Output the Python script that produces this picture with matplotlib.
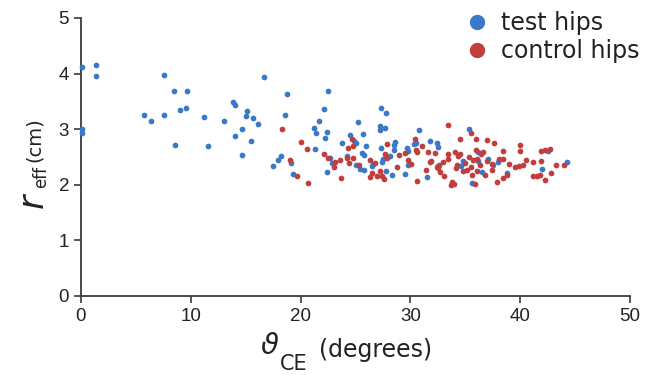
import numpy as np
import matplotlib
matplotlib.use("Agg")
import matplotlib.pyplot as plt
from matplotlib.lines import Line2D

# test hips (blue): theta_CE in degrees, r_eff in cm
test_theta = [0.06, 1.34, 1.37, 7.56, 8.5, 9.65, 9.56, 9.05, 5.74, 6.35, 7.56, 11.2, 8.56, 0.12, 0.06,
              16.7, 18.8, 22.5, 13.8, 14.0, 15.1, 15.0, 15.7, 13.05, 16.1, 18.6, 22.1, 21.7, 21.2, 14.7,
              14.05, 15.5, 11.6, 14.7,
              21.4, 22.4, 22.2, 21.3, 19.15, 17.9, 18.2, 17.5, 19.3, 22.4, 22.7, 22.9, 23.8, 24.2, 24.5,
              25.0, 25.2, 25.7, 25.0, 25.6, 25.8, 26.0, 25.4, 25.75, 26.5, 27.75, 27.4, 27.35, 27.3, 27.8,
              27.2, 27.2, 27.7, 28.5, 28.6, 28.5, 28.1, 29.8, 29.7, 30.8, 30.3, 30.5, 31.8, 32.45, 32.4,
              31.5, 29.5, 29.75, 28.35,
              35.3, 32.5, 42.5, 44.3, 42.0, 38.8, 38.0, 37.1, 37.5, 36.5, 36.2, 36.2, 35.6, 34.6, 34.8,
              32.6, 24.9, 27.5, 26.6]
test_r = [4.11, 4.16, 3.95, 3.97, 3.69, 3.68, 3.38, 3.35, 3.26, 3.15, 3.25, 3.22, 2.72, 3.01, 2.93,
          3.93, 3.63, 3.68, 3.49, 3.44, 3.33, 3.23, 3.21, 3.15, 3.10, 3.26, 3.36, 3.14, 3.03, 3.0,
          2.88, 2.79, 2.69, 2.54,
          2.94, 2.95, 2.85, 2.65, 2.40, 2.44, 2.51, 2.34, 2.20, 2.23, 2.49, 2.40, 2.76, 2.51, 2.89,
          2.75, 3.13, 2.92, 2.36, 2.57, 2.54, 2.70, 2.29, 2.26, 2.33, 2.25, 2.41, 2.67, 3.38, 3.30,
          3.05, 2.99, 3.03, 2.72, 2.77, 2.62, 2.51, 2.61, 2.66, 2.98, 2.73, 2.76, 2.79, 2.76, 2.32,
          2.14, 2.20, 2.36, 2.17,
          3.0, 2.68, 2.60, 2.41, 2.29, 2.21, 2.41, 2.47, 2.35, 2.23, 2.42, 2.59, 2.04, 2.34, 2.43,
          2.35, 2.79, 2.47, 2.38]

# control hips (red)
ctrl_theta = [18.3, 20.0, 20.6, 19.0, 19.7, 20.7, 22.1, 22.5, 23.0, 23.1, 23.6, 23.65, 24.2, 24.3,
              24.7, 24.8, 24.8, 24.4, 25.3, 26.35, 26.8, 26.35, 26.5, 27.0, 27.2, 27.6, 27.9, 27.7,
              27.85, 29.0, 29.5, 30.4, 30.5, 30.6, 31.1, 31.6, 32.2, 31.8, 32.5, 31.4, 30.6, 29.8,
              30.05, 28.8, 27.4,
              33.4, 35.5, 34.5, 36.0, 37.0, 37.6, 40.0, 40.0, 38.4, 41.9, 42.3, 42.7, 40.5, 41.2,
              41.9, 43.3, 44.0, 42.8, 41.2, 41.5, 41.8, 42.3, 39.5, 39.9, 40.3, 39.0, 38.8, 38.4,
              37.9, 38.1, 38.4, 37.4, 37.4, 36.8, 36.3, 36.1, 36.6, 36.4, 36.0, 35.7, 35.3, 35.5,
              36.1, 35.6, 35.9, 35.2, 34.8, 35.0, 34.2, 34.15, 34.5, 34.1, 34.3, 33.4, 33.4, 33.0,
              32.5, 32.7, 33.1, 33.8, 33.7, 34.0, 31.9, 37.0]
ctrl_r = [3.01, 2.77, 2.65, 2.45, 2.16, 2.04, 2.55, 2.49, 2.32, 2.41, 2.44, 2.12, 2.48, 2.66,
          2.83, 2.69, 2.48, 2.39, 2.36, 2.44, 2.39, 2.14, 2.22, 2.16, 2.25, 2.10, 2.49, 2.56,
          2.73, 2.53, 2.58, 2.83, 2.63, 2.59, 2.69, 2.59, 2.58, 2.41, 2.33, 2.27, 2.07, 2.44,
          2.38, 2.32, 2.15,
          3.07, 2.93, 2.83, 2.83, 2.80, 2.76, 2.71, 2.61, 2.61, 2.61, 2.62, 2.64, 2.45, 2.41,
          2.43, 2.35, 2.35, 2.21, 2.16, 2.16, 2.17, 2.09, 2.32, 2.34, 2.35, 2.38, 2.17, 2.12,
          2.05, 2.47, 2.47, 2.38, 2.26, 2.18, 2.35, 2.47, 2.59, 2.55, 2.62, 2.45, 2.50, 2.32,
          2.25, 2.18, 2.02, 2.27, 2.25, 2.39, 2.35, 2.30, 2.56, 2.59, 2.52, 2.56, 2.47, 2.41,
          2.31, 2.23, 2.16, 2.05, 1.99, 2.02, 2.42, 2.42]

x_ticks = [0, 10, 20, 30, 40, 50]
y_ticks = [0, 1, 2, 3, 4, 5]

blue = "#3a79c7"
red = "#c13e3d"
axis_col = "#3a3a3a"
text_col = "#222222"

W, H = 657, 375
fig = plt.figure(figsize=(W / 100, H / 100), dpi=100)
ax = fig.add_axes([81 / W, 1 - 296 / H, (630 - 81) / W, (296 - 18) / H])

ax.scatter(test_theta, test_r, s=17, color=blue, linewidths=0, clip_on=False, zorder=3)
ax.scatter(ctrl_theta, ctrl_r, s=17, color=red, linewidths=0, clip_on=False, zorder=3)

ax.set_xlim(0, 50)
ax.set_ylim(0, 5)
ax.set_xticks(x_ticks)
ax.set_yticks(y_ticks)
for s in ["top", "right"]:
    ax.spines[s].set_visible(False)
for s in ["left", "bottom"]:
    ax.spines[s].set_color(axis_col)
    ax.spines[s].set_linewidth(1.3)
ax.tick_params(colors=axis_col, width=1.2, length=5, labelsize=13.5, labelcolor=text_col)
for lab in ax.get_xticklabels() + ax.get_yticklabels():
    lab.set_family("Liberation Sans")

# legend
handles = [Line2D([], [], marker="o", ls="", color=blue, markersize=10),
           Line2D([], [], marker="o", ls="", color=red, markersize=10)]
leg = ax.legend(handles, ["test hips", "control hips"], loc="upper left", frameon=False,
                handlelength=1.0, handletextpad=0.5, labelspacing=0.15, borderaxespad=0,
                bbox_to_anchor=(456 / W, 1 - 2 / H), bbox_transform=fig.transFigure,
                prop={"family": "DejaVu Sans", "size": 17})
for t in leg.get_texts():
    t.set_color(text_col)

# axis labels
fig.text(33 / W, 1 - 201 / H, "r", fontsize=25, style="italic", rotation=90,
         ha="center", va="center", color=text_col)
fig.text(41 / W, 1 - 177 / H, "eff", fontsize=12, rotation=90,
         ha="center", va="center", color=text_col)
fig.text(34 / W, 1 - 140 / H, "(cm)", fontsize=14, rotation=90,
         ha="center", va="center", color=text_col)

fig.text(270 / W, 1 - 346 / H, "\u03d1", fontsize=21, style="italic",
         ha="center", va="center", color=text_col)
fig.text(294 / W, 1 - 364 / H, "CE", fontsize=15,
         ha="center", va="center", color=text_col)
fig.text(376 / W, 1 - 350 / H, "(degrees)", fontsize=17,
         ha="center", va="center", color=text_col)

fig.savefig("out.png", dpi=100)
